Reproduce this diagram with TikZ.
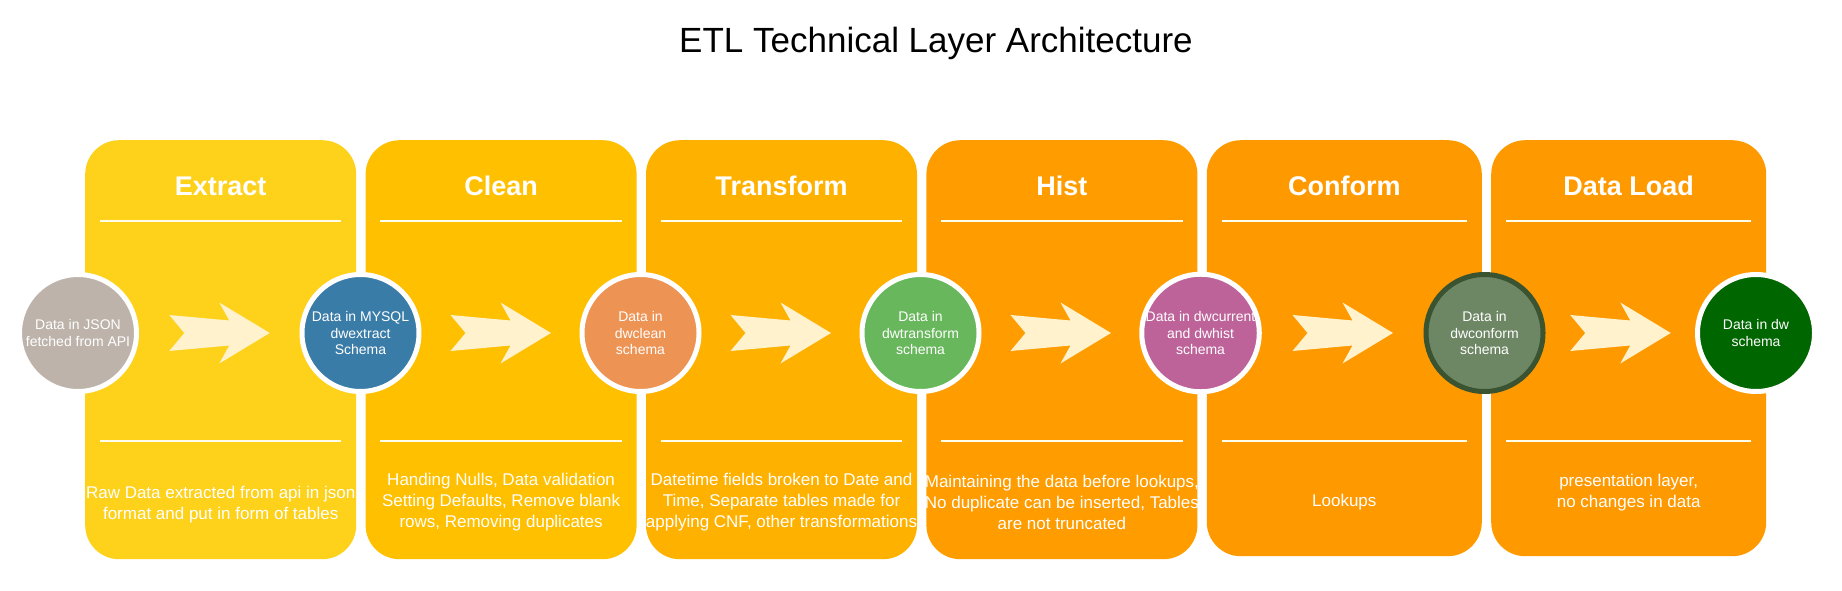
\documentclass[tikz,border=0pt]{standalone}
\usepackage{fontspec}
\setmainfont{Liberation Sans}
\usepackage{xcolor}
\usetikzlibrary{shapes,arrows,positioning,calc}

\definecolor{extractcol}{HTML}{FED11B}
\definecolor{cleancol}{HTML}{FFC000}
\definecolor{transformcol}{HTML}{FFB100}
\definecolor{histcol}{HTML}{FF9D00}
\definecolor{conformcol}{HTML}{FF9900}
\definecolor{loadcol}{HTML}{FF9900}
\definecolor{arrowcol}{HTML}{FFF2CC}
\definecolor{jsoncol}{HTML}{BDB3AA}
\definecolor{mysqlcol}{HTML}{3A7CA8}
\definecolor{cleancirc}{HTML}{ED9354}
\definecolor{transformcirc}{HTML}{68B75C}
\definecolor{currentcirc}{HTML}{BE6399}
\definecolor{conformcirc}{HTML}{6D8764}
\definecolor{conformedge}{HTML}{3A5431}
\definecolor{dwcirc}{HTML}{006600}

\begin{document}
\begin{tikzpicture}[
    x=1pt, y=-1pt,
    panel/.style={rectangle, fill=#1, minimum width=271pt, minimum height=419pt, rounded corners=34pt, inner sep=0pt, anchor=north west},
    heading/.style={font=\fontsize{27}{32}\selectfont\bfseries, text=white, anchor=base},
    desc/.style={font=\fontsize{17}{21}\selectfont, text=white, align=center},
    schema/.style={circle, fill=#1, draw=white, line width=5pt, minimum size=117pt, inner sep=0pt, align=center, text=white, font=\fontsize{14}{16.5}\selectfont},
    sepline/.style={draw=white!92!yellow, line width=2.5pt},
    bigarrow/.pic={\fill[arrowcol] (-50,-18) -- (-35,0) -- (-50,18) -- (10,12.5) -- (0,30.5) -- (50.5,0) -- (0,-30.5) -- (10,-12.5) -- cycle;}
]
\useasboundingbox (0,0) rectangle (1842,591);

% Title
\node[anchor=base, font=\fontsize{35}{42}\selectfont] (title) at (936,53) {ETL Technical Layer Architecture};

% Panels
\node[panel=extractcol] (extract) at (85,140) {};
\node[panel=cleancol, right=9pt of extract.north east, anchor=north west] (clean) {};
\node[panel=transformcol, right=9pt of clean.north east, anchor=north west] (transform) {};
\node[panel=histcol, right=9pt of transform.north east, anchor=north west] (hist) {};
\node[panel=conformcol, minimum width=275pt, minimum height=416pt, right=9pt of hist.north east, anchor=north west] (conform) {};
\node[panel=loadcol, minimum width=275pt, minimum height=416pt, right=9pt of conform.north east, anchor=north west] (load) {};

% Headings
\node[heading] (extracthead) at ($(extract.north)+(0,55)$) {Extract};
\node[heading] (cleanhead) at ($(clean.north)+(0,55)$) {Clean};
\node[heading] (transformhead) at ($(transform.north)+(0,55)$) {Transform};
\node[heading] (histhead) at ($(hist.north)+(0,55)$) {Hist};
\node[heading] (conformhead) at ($(conform.north)+(0,55)$) {Conform};
\node[heading] (loadhead) at ($(load.north)+(0,55)$) {Data Load};

% Separator lines
\foreach \p in {extract,clean,transform,hist,conform,load} {
    \draw[sepline] ($(\p.north west)+(15,81)$) -- ($(\p.north east)+(-15,81)$);
    \draw[sepline] ($(\p.north west)+(15,301)$) -- ($(\p.north east)+(-15,301)$);
}

% Descriptions
\node[desc] (extractdesc) at ($(extract.north)+(0,365)$) {Raw Data extracted from api in json\\format and put in form of tables};
\node[desc] (cleandesc) at ($(clean.north)+(0,362)$) {Handing Nulls, Data validation\\Setting Defaults, Remove blank\\rows, Removing duplicates};
\node[desc] (transformdesc) at ($(transform.north)+(0,362)$) {Datetime fields broken to Date and\\Time, Separate tables made for\\applying CNF, other transformations};
\node[desc] (histdesc) at ($(hist.north)+(0,362)$) {Maintaining the data before lookups,\\No duplicate can be inserted, Tables\\are not truncated};
\node[desc] (conformdesc) at ($(conform.north)+(0,362)$) {Lookups};
\node[desc] (loaddesc) at ($(load.north)+(0,353)$) {presentation layer,\\no changes in data};

% Schemas
\node[schema=jsoncol] (json) at (78,333) {Data in JSON\\fetched from API};
\node[schema=mysqlcol] (mysql) at (360.5,333) {Data in MYSQL\\dwextract\\Schema};
\node[schema=cleancirc] (dwclean) at (640.5,333) {Data in\\dwclean\\schema};
\node[schema=transformcirc] (dwtransform) at (920.5,333) {Data in\\dwtransform\\schema};
\node[schema=currentcirc] (dwcurrent) at (1200.5,333) {Data in dwcurrent\\and dwhist\\schema};
\node[schema=conformcirc, draw=conformedge] (dwconform) at (1484.5,333) {Data in\\dwconform\\schema};
\node[schema=dwcirc] (dw) at (1756,333) {Data in dw\\schema};

% Arrows
\pic at ($(json)!0.5!(mysql)$) {bigarrow};
\pic at ($(mysql)!0.5!(dwclean)$) {bigarrow};
\pic at ($(dwclean)!0.5!(dwtransform)$) {bigarrow};
\pic at ($(dwtransform)!0.5!(dwcurrent)$) {bigarrow};
\pic at ($(dwcurrent)!0.5!(dwconform)$) {bigarrow};
\pic at ($(dwconform)!0.5!(dw)$) {bigarrow};

\end{tikzpicture}
\end{document}
